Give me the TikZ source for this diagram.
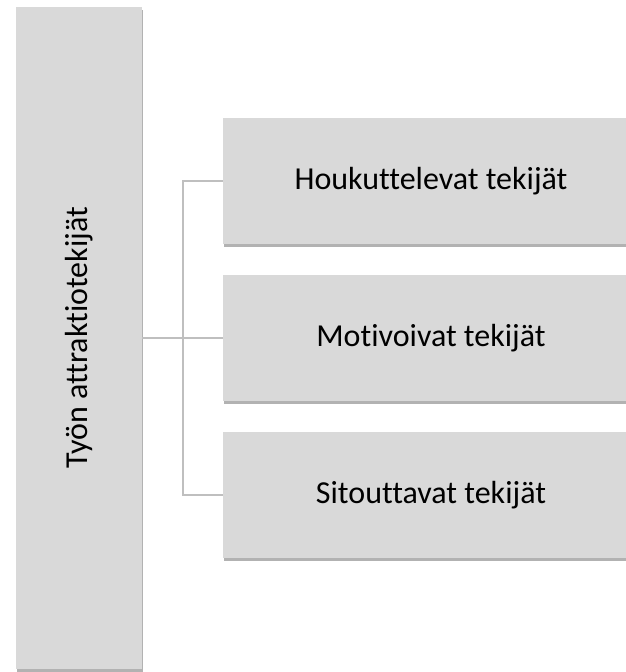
\documentclass[tikz,border=0pt]{standalone}
\usepackage{fontspec}
\setmainfont{Carlito}[Ligatures=NoCommon]
\usetikzlibrary{shadows}
\tikzset{
  laatikko/.style={
    fill=black!15, draw=none, inner sep=0pt,
    font=\fontsize{32}{38}\selectfont,
    drop shadow={shadow xshift=1pt,shadow yshift=-3pt,opacity=.3,fill=black},
  },
  tekija/.style={laatikko,minimum width=416pt,minimum height=126pt},
  paa/.style={laatikko,minimum width=126pt,minimum height=662pt},
  yhteys/.style={draw=black!25,line width=1.5pt}
}

\begin{document}
\begin{tikzpicture}[x=1pt,y=-1pt]
    \useasboundingbox (0,0) rectangle (626,672);
    \clip (0,0) rectangle (626,672);

    \node[paa] (tyon) at (79,338) {\rotatebox{90}{Työn attraktiotekijät}};

    \node[tekija] (houk) at (431,181) {Houkuttelevat tekijät};
    \node[tekija] (moti) at (431,338) {Motivoivat tekijät};
    \node[tekija] (sito) at (431,495) {Sitouttavat tekijät};

    \draw[yhteys] (tyon.east) -- (moti.west);
    \draw[yhteys] (tyon.east) -- +(41,0) coordinate (haara) |- (houk.west);
    \draw[yhteys] (haara) |- (sito.west);
\end{tikzpicture}
\end{document}
